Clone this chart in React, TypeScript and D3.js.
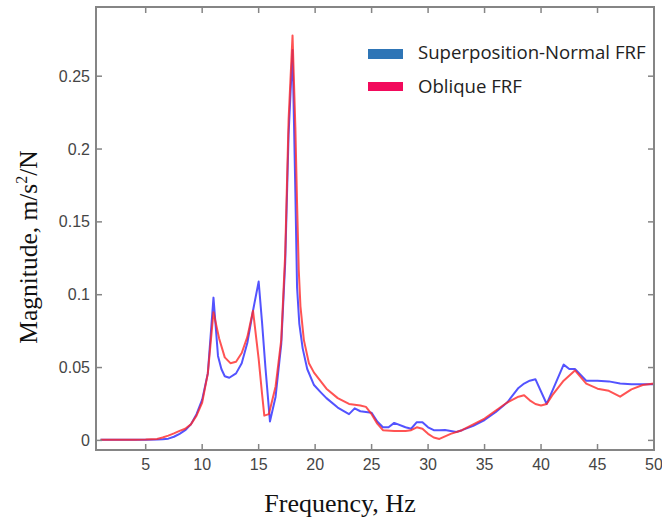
import React from 'react';
import * as d3 from 'd3';

// Superposition-Normal FRF (blue)
const normalFreq = [1, 2, 3, 4, 5, 6, 6.5, 7, 7.5, 8, 8.5, 9, 9.5, 10, 10.5, 11, 11.4, 11.7, 12, 12.4, 13, 13.5, 14, 14.5, 15, 15.3, 15.6, 16, 16.5, 17, 17.35, 17.65, 18, 18.25, 18.4, 18.6, 18.9, 19.3, 19.9, 20.5, 21, 22, 23, 23.5, 24, 25, 25.5, 26, 26.5, 27, 28, 28.5, 29, 29.5, 30, 30.5, 31, 31.5, 32, 32.5, 33, 34, 35, 36, 37, 38, 38.5, 39, 39.5, 40.5, 41, 42, 42.5, 43, 44, 45, 46, 47, 48, 49, 50];
const normalMag = [0.0005, 0.0005, 0.0005, 0.0005, 0.0005, 0.0006, 0.0008, 0.0012, 0.0025, 0.0045, 0.007, 0.011, 0.018, 0.028, 0.046, 0.098, 0.058, 0.049, 0.044, 0.043, 0.046, 0.053, 0.067, 0.089, 0.109, 0.081, 0.05, 0.013, 0.03, 0.066, 0.122, 0.21, 0.268, 0.17, 0.105, 0.08, 0.063, 0.049, 0.038, 0.033, 0.029, 0.0225, 0.018, 0.022, 0.02, 0.019, 0.013, 0.009, 0.009, 0.012, 0.009, 0.008, 0.0125, 0.0125, 0.009, 0.007, 0.007, 0.0072, 0.0065, 0.0058, 0.007, 0.01, 0.014, 0.0195, 0.026, 0.036, 0.039, 0.041, 0.042, 0.025, 0.034, 0.052, 0.049, 0.049, 0.041, 0.041, 0.0405, 0.039, 0.0385, 0.0385, 0.0385];

// Oblique FRF (red)
const obliqueFreq = [1, 2, 3, 4, 5, 6, 6.5, 7, 7.5, 8, 8.5, 9, 9.5, 10, 10.5, 11, 11.5, 12, 12.5, 13, 13.5, 14, 14.5, 15, 15.3, 15.5, 15.9, 16.5, 17, 17.35, 17.65, 18, 18.25, 18.4, 18.55, 18.7, 19, 19.45, 19.9, 21, 22, 23, 24, 24.5, 25, 25.5, 26, 27, 28, 28.5, 29, 29.5, 30, 30.5, 31, 32, 33, 34, 35, 36, 37, 38, 38.5, 39, 39.5, 40, 40.5, 41, 42, 43, 44, 45, 46, 47, 48, 49, 50];
const obliqueMag = [0.0005, 0.0005, 0.0005, 0.0005, 0.0006, 0.001, 0.002, 0.0033, 0.0048, 0.0065, 0.008, 0.011, 0.017, 0.026, 0.046, 0.088, 0.07, 0.057, 0.053, 0.054, 0.06, 0.071, 0.089, 0.056, 0.032, 0.017, 0.018, 0.037, 0.069, 0.128, 0.22, 0.278, 0.215, 0.163, 0.117, 0.092, 0.069, 0.053, 0.0465, 0.0355, 0.029, 0.025, 0.024, 0.023, 0.018, 0.0115, 0.007, 0.0065, 0.0065, 0.007, 0.009, 0.008, 0.0045, 0.002, 0.001, 0.0045, 0.007, 0.011, 0.015, 0.0205, 0.026, 0.03, 0.031, 0.0275, 0.025, 0.024, 0.025, 0.031, 0.041, 0.048, 0.039, 0.0355, 0.034, 0.03, 0.035, 0.038, 0.039];

const xTicks = [5, 10, 15, 20, 25, 30, 35, 40, 45, 50];
const yTicks = [0, 0.05, 0.1, 0.15, 0.2, 0.25];
const yTickLabels = ['0', '0.05', '0.1', '0.15', '0.2', '0.25'];

const W = 662;
const H = 524;
const left = 96, right = 654, top = 7, bottom = 450;

export default function App() {
  const x = d3.scaleLinear().domain([0.6, 50]).range([left, right]);
  const y = d3.scaleLinear().domain([-0.0066, 0.2975]).range([bottom, top]);

  const line = d3.line<[number, number]>()
    .x(d => x(d[0]))
    .y(d => y(d[1]));

  const normalPts = normalFreq.map((f, i) => [f, normalMag[i]] as [number, number]);
  const obliquePts = obliqueFreq.map((f, i) => [f, obliqueMag[i]] as [number, number]);

  const frame = '#858585';
  const tickLen = 6;

  return (
    <svg width={W} height={H} style={{ position: 'absolute', left: 0, top: 0, background: '#fff' }}>
      <rect x={0} y={0} width={W} height={H} fill="#fff" />

      {/* curves */}
      <path d={line(normalPts) || ''} fill="none" stroke="rgb(40,40,255)" strokeOpacity={0.8} strokeWidth={2} strokeLinejoin="round" />
      <path d={line(obliquePts) || ''} fill="none" stroke="rgb(255,40,40)" strokeOpacity={0.8} strokeWidth={2} strokeLinejoin="round" />

      {/* frame + ticks */}
      <rect x={left} y={top} width={right - left} height={bottom - top} fill="none" stroke={frame} strokeWidth={2} />
      {xTicks.map(t => (
        <g key={'x' + t}>
          <line x1={x(t)} x2={x(t)} y1={bottom} y2={bottom - tickLen} stroke={frame} strokeWidth={1.5} />
          <line x1={x(t)} x2={x(t)} y1={top} y2={top + tickLen} stroke={frame} strokeWidth={1.5} />
          <text x={x(t)} y={470} textAnchor="middle" fontFamily="'Liberation Sans', Arial, sans-serif" fontSize={16} fill="#454545">{t}</text>
        </g>
      ))}
      {yTicks.map((t, i) => (
        <g key={'y' + t}>
          <line x1={left} x2={left + tickLen} y1={y(t)} y2={y(t)} stroke={frame} strokeWidth={1.5} />
          <line x1={right} x2={right - tickLen} y1={y(t)} y2={y(t)} stroke={frame} strokeWidth={1.5} />
          <text x={90} y={y(t)} dy="0.35em" textAnchor="end" fontFamily="'Liberation Sans', Arial, sans-serif" fontSize={16} fill="#454545">{yTickLabels[i]}</text>
        </g>
      ))}

      {/* axis titles */}
      <text x={340} y={512} textAnchor="middle" fontFamily="'Liberation Serif', 'Times New Roman', serif" fontSize={26} fill="#111">Frequency, Hz</text>
      <text transform="translate(37,247) rotate(-90)" textAnchor="middle" fontFamily="'Liberation Serif', 'Times New Roman', serif" fontSize={25.5} fill="#111">
        Magnitude, m/s<tspan dy={-10} fontSize={16}>2</tspan><tspan dy={10}>/N</tspan>
      </text>

      {/* legend */}
      <rect x={368} y={49} width={35} height={10} fill="#2E75B6" />
      <text x={418} y={59} fontFamily="'Open Sans', sans-serif" fontSize={18.6} fill="#222">Superposition-Normal FRF</text>
      <rect x={368} y={82} width={35} height={9} fill="#F20A5C" />
      <text x={418} y={93} fontFamily="'Open Sans', sans-serif" fontSize={18.6} fill="#222">Oblique FRF</text>
    </svg>
  );
}
